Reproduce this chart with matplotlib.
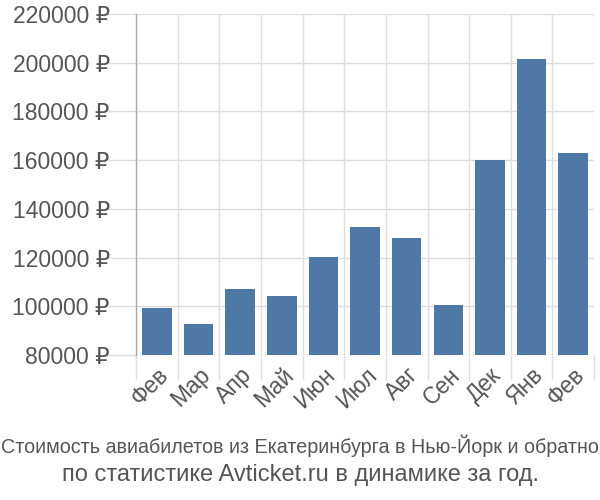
import matplotlib
matplotlib.use("Agg")
import matplotlib.pyplot as plt
import matplotlib.transforms as mtransforms
from matplotlib import font_manager
import numpy as np

# Monthly ticket prices, rubles
months = ["Фев", "Мар", "Апр", "Май", "Июн", "Июл", "Авг", "Сен", "Дек", "Янв", "Фев"]
prices = [99500, 92600, 106900, 104200, 120100, 132500, 127900, 100500, 160100, 201700, 162900]
y_ticks = [80000, 100000, 120000, 140000, 160000, 180000, 200000, 220000]

plt.rcParams['font.family'] = ['Liberation Sans', 'DejaVu Sans']

# is there a condensed face for the first caption line?
narrow_file = font_manager.findfont(font_manager.FontProperties(family='Liberation Sans', stretch='condensed'))
has_narrow = 'narrow' in narrow_file.lower()

fig = plt.figure(figsize=(6, 5), dpi=100)
ax = fig.add_axes([0.227, 0.29, 0.763, 0.682])

index = np.arange(len(months))
ax.bar(index, prices, width=0.71, color="#4e79a7", zorder=3)

ax.set_xlim(-0.5, len(months) - 0.5)
ax.set_ylim(80000, 220000)
ax.set_yticks(y_ticks)
ax.set_yticklabels([f"{v} ₽" for v in y_ticks], fontsize=16.5, color="#555555")

# category boundaries carry the vertical grid lines
bounds = np.arange(len(months) + 1) - 0.5
ax.set_xticks(bounds)
ax.set_xticklabels([])
ax.set_xticks(index, minor=True)
ax.set_xticklabels(months, minor=True, rotation=45, ha="right", va="top",
                   rotation_mode="anchor", fontsize=16.5, color="#555555")
shift = mtransforms.ScaledTranslation(-5 / 100, 0, fig.dpi_scale_trans)
for lab in ax.get_xticklabels(minor=True):
    lab.set_transform(lab.get_transform() + shift)
ax.tick_params(axis="x", which="major", length=18, color="#dddddd", width=1)
ax.tick_params(axis="x", which="minor", length=0, pad=6)
ax.tick_params(axis="y", length=20, color="#dddddd", width=1, pad=-1)

ax.grid(True, which="major", color="#dddddd", linewidth=1, zorder=0)
for s in ["top", "right", "bottom"]:
    ax.spines[s].set_visible(False)
ax.spines["left"].set_color("#aaaaaa")
ax.spines["left"].set_linewidth(1)

line1 = "Стоимость авиабилетов из Екатеринбурга в Нью-Йорк и обратно"
if has_narrow:
    fig.text(0.5, 0.108, line1, ha="center", va="center", fontsize=16.5,
             color="#555555", fontstretch='condensed')
else:
    fig.text(0.5, 0.108, line1, ha="center", va="center", fontsize=14.2,
             color="#555555")
fig.text(0.5, 0.05, "по статистике Avticket.ru в динамике за год.",
         ha="center", va="center", fontsize=17, color="#555555")

plt.savefig("out.png")
